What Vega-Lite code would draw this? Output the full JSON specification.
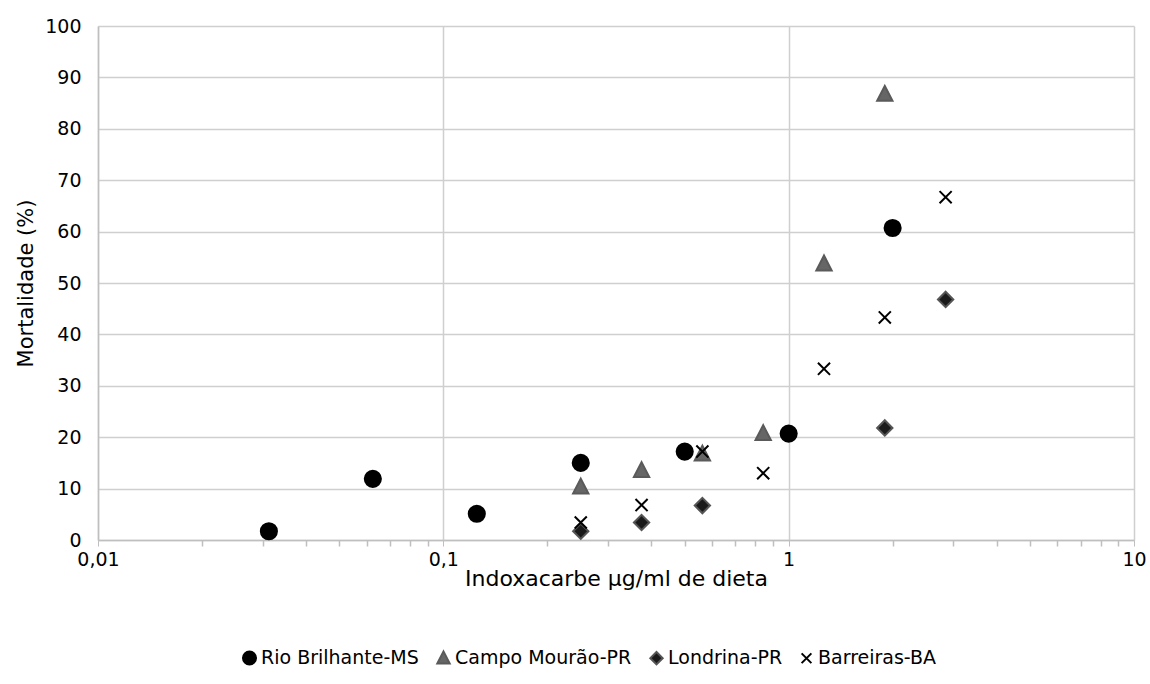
{
  "$schema": "https://vega.github.io/schema/vega-lite/v6.json",
  "width": 1036,
  "height": 514,
  "autosize": {"type": "none"},
  "padding": {"left": 98, "top": 26, "right": 16, "bottom": 144},
  "background": "white",
  "config": {
    "font": "DejaVu Sans",
    "view": {"stroke": null},
    "axis": {"labelFont": "DejaVu Sans", "titleFont": "DejaVu Sans", "labelColor": "#000", "titleColor": "#000", "titleFontWeight": "normal"}
  },
  "data": {"values": [
    {"dose": 0.03125, "mort": 1.7, "pop": "Rio Brilhante-MS"},
    {"dose": 0.0625, "mort": 11.9, "pop": "Rio Brilhante-MS"},
    {"dose": 0.125, "mort": 5.1, "pop": "Rio Brilhante-MS"},
    {"dose": 0.25, "mort": 15.0, "pop": "Rio Brilhante-MS"},
    {"dose": 0.5, "mort": 17.2, "pop": "Rio Brilhante-MS"},
    {"dose": 1.0, "mort": 20.7, "pop": "Rio Brilhante-MS"},
    {"dose": 2.0, "mort": 60.7, "pop": "Rio Brilhante-MS"},
    {"dose": 0.25, "mort": 10.3, "pop": "Campo Mourão-PR"},
    {"dose": 0.375, "mort": 13.5, "pop": "Campo Mourão-PR"},
    {"dose": 0.5625, "mort": 16.7, "pop": "Campo Mourão-PR"},
    {"dose": 0.84375, "mort": 20.7, "pop": "Campo Mourão-PR"},
    {"dose": 1.265625, "mort": 53.7, "pop": "Campo Mourão-PR"},
    {"dose": 1.8984, "mort": 86.7, "pop": "Campo Mourão-PR"},
    {"dose": 0.25, "mort": 1.7, "pop": "Londrina-PR"},
    {"dose": 0.375, "mort": 3.4, "pop": "Londrina-PR"},
    {"dose": 0.5625, "mort": 6.7, "pop": "Londrina-PR"},
    {"dose": 1.8984, "mort": 21.8, "pop": "Londrina-PR"},
    {"dose": 2.8477, "mort": 46.8, "pop": "Londrina-PR"},
    {"dose": 0.25, "mort": 3.4, "pop": "Barreiras-BA"},
    {"dose": 0.375, "mort": 6.8, "pop": "Barreiras-BA"},
    {"dose": 0.5625, "mort": 17.2, "pop": "Barreiras-BA"},
    {"dose": 0.84375, "mort": 13.0, "pop": "Barreiras-BA"},
    {"dose": 1.265625, "mort": 33.3, "pop": "Barreiras-BA"},
    {"dose": 1.8984, "mort": 43.3, "pop": "Barreiras-BA"},
    {"dose": 2.8477, "mort": 66.7, "pop": "Barreiras-BA"}
  ]},
  "layer": [
    {
      "mark": {"type": "point", "filled": true, "size": 260, "strokeWidth": 2, "opacity": 1},
      "encoding": {
        "x": {"field": "dose", "type": "quantitative",
          "scale": {"type": "log", "domain": [0.01, 10], "nice": false},
          "axis": {"title": "Indoxacarbe µg/ml de dieta", "titleFontSize": 22, "titlePadding": -1,
            "values": [0.01, 0.1, 1, 10], "labelExpr": "replace(format(datum.value, ''), '.', ',')",
            "labelFontSize": 19, "labelPadding": 4, "labelFlush": false, "tickSize": 6, "tickColor": "#bfbfbf",
            "domainColor": "#bfbfbf", "domainWidth": 1.5,
            "grid": true, "gridColor": "#cfcfcf", "gridWidth": 1.5}},
        "y": {"field": "mort", "type": "quantitative",
          "scale": {"domain": [0, 100], "nice": false},
          "axis": {"title": "Mortalidade (%)", "titleFontSize": 21, "titlePadding": 8,
            "values": [0, 10, 20, 30, 40, 50, 60, 70, 80, 90, 100],
            "labelFontSize": 19, "labelPadding": 17, "labelFlush": false, "ticks": false,
            "domainColor": "#bfbfbf", "domainWidth": 1.5,
            "grid": true, "gridColor": "#cfcfcf", "gridWidth": 1.5}},
        "shape": {"field": "pop", "type": "nominal",
          "scale": {"domain": ["Rio Brilhante-MS", "Campo Mourão-PR", "Londrina-PR", "Barreiras-BA"],
            "range": ["circle", "M0,-1.05L0.95,0.8L-0.95,0.8Z", "M0,-0.95L0.95,0L0,0.95L-0.95,0Z", "M-0.75,-0.75L0.75,0.75M-0.75,0.75L0.75,-0.75"]},
          "legend": {"title": null, "orient": "none", "legendX": 142, "legendY": 622, "direction": "horizontal",
            "labelFontSize": 19, "labelFont": "DejaVu Sans", "labelColor": "#000", "labelLimit": 400, "symbolSize": 170,
            "labelOffset": 2, "columnPadding": 14, "symbolStrokeWidth": 2}},
        "fill": {"field": "pop", "type": "nominal",
          "scale": {"domain": ["Rio Brilhante-MS", "Campo Mourão-PR", "Londrina-PR", "Barreiras-BA"],
            "range": ["#000000", "#666666", "#1a1a1a", "#000000"]}},
        "stroke": {"field": "pop", "type": "nominal",
          "scale": {"domain": ["Rio Brilhante-MS", "Campo Mourão-PR", "Londrina-PR", "Barreiras-BA"],
            "range": ["#000000", "#5a5a5a", "#555555", "#000000"]}}
      }
    },
    {
      "mark": {"type": "tick", "orient": "vertical", "opacity": 0},
      "encoding": {
        "x": {"field": "dose", "type": "quantitative",
          "scale": {"type": "log", "domain": [0.01, 10], "nice": false},
          "axis": {"title": null, "orient": "bottom", "labels": false, "grid": false, "domain": false,
            "values": [0.02, 0.03, 0.04, 0.05, 0.06, 0.07, 0.08, 0.09, 0.2, 0.3, 0.4, 0.5, 0.6, 0.7, 0.8, 0.9, 2, 3, 4, 5, 6, 7, 8, 9],
            "tickSize": 6, "tickColor": "#bfbfbf", "tickWidth": 1.5}}
      }
    }
  ],
  "resolve": {"axis": {"x": "independent"}, "scale": {"x": "shared"}}
}
